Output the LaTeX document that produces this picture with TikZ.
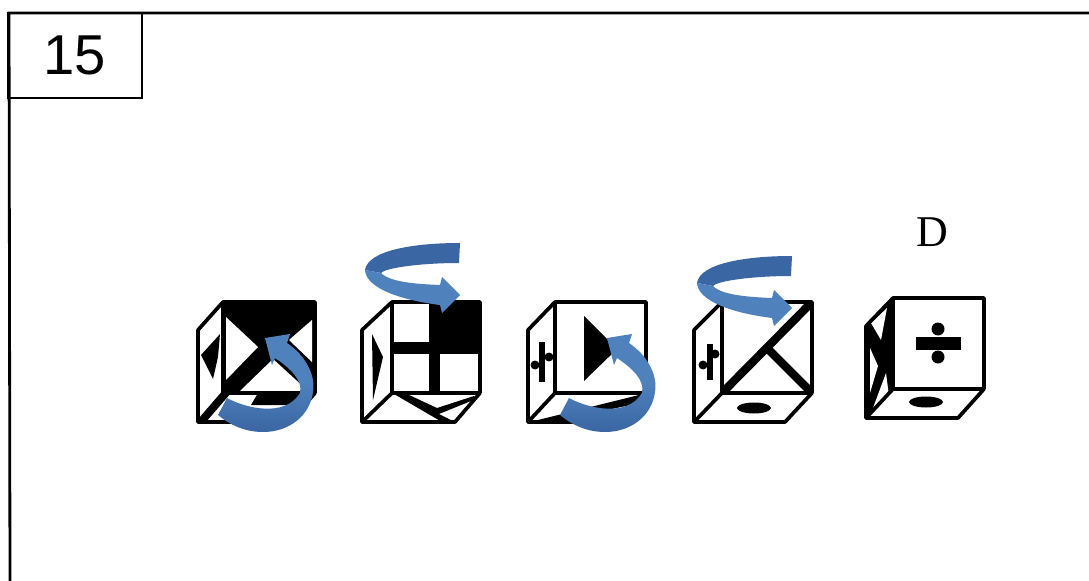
\documentclass[tikz,border=0pt]{standalone}
\usepackage{fontspec}
\setmainfont{Liberation Serif}
\setsansfont{Liberation Sans}
\definecolor{arrowlight}{HTML}{4F81BD}
\definecolor{arrowdark}{HTML}{3A66A3}
\tikzset{
  cubeline/.style={line width=2.1pt, line join=round},
  frameline/.style={line width=1.6pt},
  mark black/.style={fill=black, draw=none},
}
% front face w wide, side faces pushed dx to the left, bottom corner at x
\newcommand{\cubeframe}[3]{
  \draw[cubeline] (0,0) rectangle (#1,91);
  \draw[cubeline] (0,0) -- (-#2,28) -- (-#2,120) -- (0,91);
  \draw[cubeline] (-#2,120) -- (#3,120) -- (#1,91);
}
\newcommand{\ribbonup}{
  \shade[top color=arrowlight, bottom color=arrowdark, middle color=arrowlight]
    (227,398) .. controls (245,408) and (285,418) .. (300,393)
    .. controls (303,380) and (290,368) .. (275,358) -- (272,365) -- (265,338) -- (290,334) -- (287,343)
    .. controls (305,355) and (316,375) .. (313,392)
    .. controls (310,415) and (290,432) .. (263,432)
    .. controls (245,432) and (230,425) .. (218,415) -- cycle;
}
\newcommand{\ribbonover}{
  \fill[arrowdark] (460,243) .. controls (415,243) and (368,250) .. (365,270)
    -- (381,273) .. controls (385,268) and (420,263) .. (459,263) -- cycle;
  \fill[arrowlight] (365,270) .. controls (366,288) and (400,300) .. (440,305)
    -- (442,313) -- (460,295) -- (442,277) -- (440,285)
    .. controls (415,284) and (390,282) .. (381,273) -- cycle;
}
\begin{document}
\begin{tikzpicture}[x=0.02cm, y=-0.02cm]
  \useasboundingbox (0,0) rectangle (1089,581);
  \fill[white] (0,0) rectangle (1089,581);
  \draw[frameline] (1089,13) -- (9,13) -- (10,581);
  \node[draw, frameline, minimum width=134*0.02cm, minimum height=85*0.02cm, inner sep=0pt, font=\sffamily\fontsize{32}{32}\selectfont] (number) at (75,55.5) {\raisebox{-1pt}{15}};
  \node[font=\fontsize{25}{25}\selectfont] (answer) at (932,232) {D};

  % first cube
  \begin{scope}[shift={(223,302)}]
    \fill[black] (0,0) rectangle (92,91);
    \fill[white] (3,15) -- (35,45) -- (3,78) -- cycle;
    \fill[white] (89,18) -- (66,38) -- (89,60) -- cycle;
    \fill[white] (17,89) -- (50,57) -- (85,89) -- cycle;
    \fill[white] (-25,28) -- (0,0) -- (0,91) -- (-25,120) -- cycle;
    \fill[mark black] (-3,32) -- (-22,53) -- (-10,77) -- (-5,55) -- cycle;
    \fill[white] (0,91) -- (92,91) -- (67,120) -- (-25,120) -- cycle;
    \fill[mark black] (35,91) -- (92,91) -- (77,103) -- (28,103) -- cycle;
    \fill[mark black] (-25,120) -- (0,91) -- (8,91) -- (-17,120) -- cycle;
    \cubeframe{92}{25}{67}
  \end{scope}

  % second cube
  \begin{scope}[shift={(392,302)}]
    \fill[mark black] (37,0) rectangle (88,52);
    \fill[mark black] (0,40) rectangle (88,52);
    \fill[mark black] (37,0) rectangle (48,91);
    \fill[mark black] (-20,32) -- (-9,55) -- (-19,98) -- cycle;
    \fill[mark black] (2,92) -- (15,92) -- (45,106) -- (82,94) -- (84,97) -- (47,112) -- (63,120) -- (50,120) -- cycle;
    \cubeframe{88}{30}{63}
  \end{scope}

  % third cube
  \begin{scope}[shift={(555,302)}]
    \fill[mark black] (29,14) -- (62,47) -- (29,79) -- cycle;
    \draw[line width=3.6pt] (-13,40) -- (-13,80);
    \fill[mark black] (-20,63) circle [radius=4.5];
    \fill[mark black] (-6,55) circle [radius=4.5];
    \fill[mark black] (-25,120) -- (88,92) -- (80,102) -- (20,115) -- (20,120) -- cycle;
    \cubeframe{91}{27}{67}
  \end{scope}

  % fourth cube
  \begin{scope}[shift={(722,302)}]
    \draw[line width=4.7pt] (89,1) -- (1,90);
    \draw[line width=4.7pt] (45,46) -- (88,89);
    \draw[line width=3.6pt] (-12,42) -- (-12,78);
    \fill[mark black] (-19,63) circle [radius=4.5];
    \fill[mark black] (-7,52) circle [radius=4.5];
    \fill[mark black] (32,106) ellipse (17 and 5.5);
    \cubeframe{90}{28}{63}
  \end{scope}

  % fifth cube
  \begin{scope}[shift={(893,298)}]
    \fill[mark black] (23,39) rectangle (68,52);
    \fill[mark black] (45,31) circle [radius=6.5];
    \fill[mark black] (45,59) circle [radius=6.5];
    \fill[mark black] (0,0) -- (-27,28) -- (-27,119) -- (0,90) -- cycle;
    \fill[white] (-22,25) -- (-6,10) -- (-12,42) -- cycle;
    \fill[white] (-23,50) -- (-15,68) -- (-23,95) -- cycle;
    \fill[white] (-7,75) -- (-4,98) -- (-20,110) -- cycle;
    \fill[mark black] (33,104) ellipse (17 and 5.5);
    \cubeframe{91}{27}{65}
  \end{scope}

  % arrows lie over the cubes
  \ribbonup
  \begin{scope}[shift={(342,0)}]
    \ribbonup
  \end{scope}
  \ribbonover
  \begin{scope}[shift={(332,13)}]
    \ribbonover
  \end{scope}
\end{tikzpicture}
\end{document}
